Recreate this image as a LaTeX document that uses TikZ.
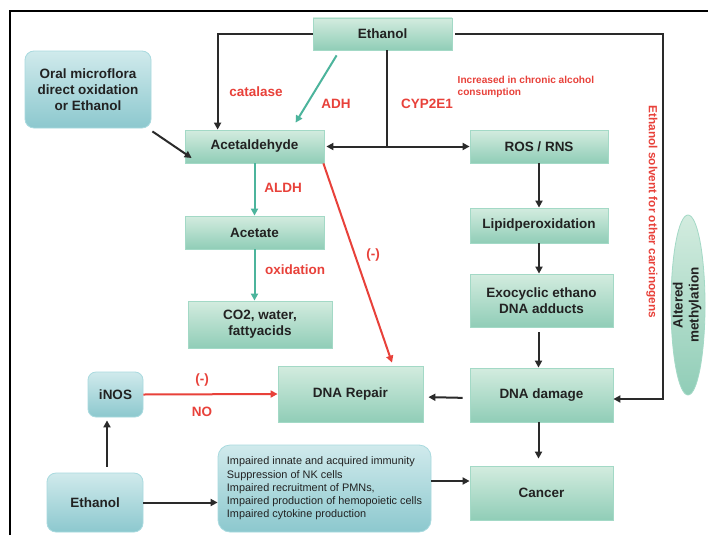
\documentclass[tikz,border=0pt]{standalone}
\usepackage{fontspec}
\setmainfont{Liberation Sans}
\usetikzlibrary{arrows.meta,shapes.geometric,calc}

\definecolor{gtop}{HTML}{D3ECDF}
\definecolor{gbot}{HTML}{90CDB7}
\definecolor{gedge}{HTML}{A3D9C6}
\definecolor{btop}{HTML}{D0EAEC}
\definecolor{bbot}{HTML}{8CC8CE}
\definecolor{bedge}{HTML}{A9DADF}
\definecolor{tealarr}{HTML}{4CB49C}
\definecolor{redlbl}{HTML}{E8413A}
\definecolor{ink}{HTML}{2A2A2A}
\definecolor{txt}{HTML}{222222}

\begin{document}
\begin{tikzpicture}[x=1pt,y=-1pt,
  boxfont/.style={font=\bfseries\fontsize{13.5}{16}\selectfont},
  gbox/.style={boxfont, draw=gedge, line width=0.8pt, top color=gtop, bottom color=gbot,
    align=center, inner sep=0pt, text=txt},
  bbox/.style={boxfont, draw=bedge, line width=0.8pt, top color=btop, bottom color=bbot,
    rounded corners=9pt, align=center, inner sep=0pt, text=txt},
  lbl/.style={font=\bfseries\fontsize{13.5}{16}\selectfont, text=redlbl, inner sep=0pt},
  blk/.style={draw=ink, line width=2pt, -{Triangle[length=7pt,width=7pt]}},
  blkline/.style={draw=ink, line width=2pt},
  tarr/.style={draw=tealarr, line width=2pt, -{Triangle[length=7pt,width=7pt]}},
  rarr/.style={draw=redlbl, line width=2pt, -{Triangle[length=7pt,width=7pt]}}]

\fill[white] (0,0) rectangle (708,535);
\useasboundingbox (0,0) rectangle (708,535);

% outer frame
\draw[line width=2pt, black] (10,535) -- (10,11) -- (708,11);

% nodes
\node[gbox, minimum width=139pt, minimum height=32pt] (eth1) at (382.5,34) {Ethanol};
\node[bbox, minimum width=126pt, minimum height=77pt] (oral) at (88,89.5) {Oral microflora\\direct oxidation\\or Ethanol};
\node[gbox, minimum width=139pt, minimum height=33pt] (acet) at (254.5,146.5) {Acetaldehyde};
\node[gbox, minimum width=139pt, minimum height=33pt] (acetate) at (254.5,232.5) {Acetate};
\node[gbox, minimum width=144pt, minimum height=47pt] (co2) at (260,324.5) {CO2, water,\\fattyacids};
\node[gbox, minimum width=138pt, minimum height=33pt] (ros) at (539,146.5) {ROS / RNS};
\node[gbox, minimum width=138pt, minimum height=35pt] (lipid) at (539,225.5) {Lipidperoxidation};
\node[gbox, minimum width=143pt, minimum height=53pt] (exo) at (541.5,300.5) {Exocyclic ethano\\DNA adducts};
\node[gbox, minimum width=143pt, minimum height=54pt] (dnad) at (541.5,395) {DNA damage};
\node[gbox, minimum width=145pt, minimum height=56pt] (dnar) at (350.5,394) {DNA Repair};
\node[gbox, minimum width=143pt, minimum height=54pt] (cancer) at (541.5,493) {Cancer};
\node[bbox, minimum width=55pt, minimum height=45pt, rounded corners=8pt] (inos) at (115.5,394.5) {iNOS};
\node[bbox, minimum width=96pt, minimum height=59pt] (eth2) at (95,502.5) {Ethanol};
\node[bbox, font=\fontsize{10.9}{13.3}\selectfont, align=left,
  minimum width=213pt, minimum height=87pt, rounded corners=12pt] (imm) at (324.5,488.5)
  {Impaired innate and acquired immunity\\Suppression of NK cells\\Impaired recruitment of PMNs,\\Impaired production of hemopoietic cells\\Impaired cytokine production};
\node[ellipse, draw=gedge, line width=0.8pt, top color=gtop, bottom color=gbot,
  minimum width=34pt, minimum height=180pt, inner sep=0pt] (meth) at (688,305) {};
\node[boxfont, rotate=90, align=center, text=txt, inner sep=0pt] (methtxt) at ([xshift=-1pt]meth.center) {Altered\\methylation};

% labels
\node[lbl] (lcat) at (256,92) {catalase};
\node[lbl] (ladh) at (336,104) {ADH};
\node[lbl] (lcyp) at (427,104) {CYP2E1};
\node[lbl, font=\bfseries\fontsize{10.1}{12}\selectfont, align=left, anchor=north west] (linc) at (457.5,76) {Increased in chronic alcohol\\consumption};
\node[lbl, font=\bfseries\fontsize{11.8}{14}\selectfont, rotate=-90] (lsolv) at (652,212) {Ethanol solvent for other carcinogens};
\node[lbl] (laldh) at (283,188) {ALDH};
\node[lbl, anchor=west] (loxi) at (265,270) {oxidation};
\node[lbl] (lneg1) at (373,255) {(-)};
\node[lbl] (lneg2) at (202,380) {(-)};
\node[lbl] (lno) at (202,412) {NO};

% coordinates for connector bends
\coordinate (catin) at ([xshift=33pt]acet.north west);
\coordinate (cypx) at ([xshift=4.5pt]eth1.south);
\coordinate (ethup) at ([xshift=12pt]eth2.north);

% connectors
\draw[blk] (eth1.west) -| (catin);
\draw[tarr] ([xshift=24pt,yshift=-5pt]eth1.south west) -- ([xshift=111pt,yshift=7pt]acet.north west);
\draw[blkline] (cypx) -- (cypx |- acet.east);
\draw[draw=ink, line width=2pt, {Triangle[length=7pt,width=7pt]}-{Triangle[length=7pt,width=7pt]}] ([xshift=2pt]acet.east) -- (ros.west);
\draw[blk] ([xshift=3pt]eth1.east) -- ++(208,0) |- ([yshift=-4pt]dnad.east);
\draw[blk] ([xshift=1pt,yshift=-3pt]oral.south east) -- ([xshift=7pt,yshift=-11.5pt]acet.west);
\draw[tarr] (acet.south) -- (acetate.north);
\draw[tarr] (acetate.south) -- (acetate.south |- co2.north);
\draw[blk] (ros.south) -- (ros.south |- lipid.north);
\draw[blk] (lipid.south) -- (lipid.south |- exo.north);
\draw[blk, shorten <=5pt] ([xshift=-3pt]exo.south) -- ([xshift=-3pt]dnad.north);
\draw[blk] ([xshift=-3pt]dnad.south) -- ([xshift=-3pt,yshift=7pt]cancer.north);
\draw[blk, shorten <=7pt, shorten >=5pt] ([yshift=-3pt]dnad.west) -- ([yshift=-3pt]dnar.east);
\draw[rarr] ([xshift=-1pt]acet.south east) -- ([xshift=41.5pt,yshift=3pt]dnar.north);
\draw[rarr] (inos.east) -- (dnar.west);
\draw[blk, shorten <=6pt, shorten >=3pt] (ethup) -- (ethup |- inos.south);
\draw[blk] (eth2.east) -- (imm.west |- eth2.east);
\draw[blk] ([yshift=7.5pt]imm.east) -- ([yshift=7.5pt]imm.east -| cancer.west);

\end{tikzpicture}
\end{document}
